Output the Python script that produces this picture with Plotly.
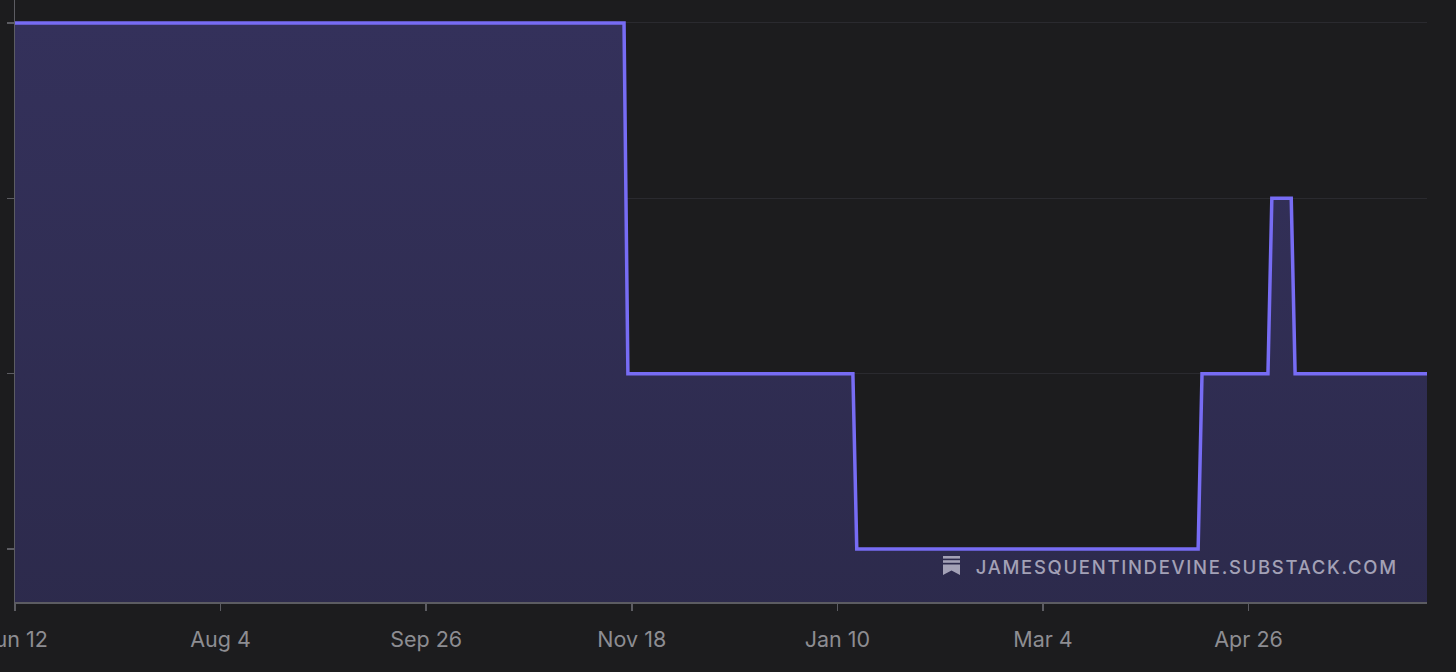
import plotly.graph_objects as go

# ---- data ----
dates = ["2024-06-12", "2024-11-16", "2024-11-17", "2025-01-14", "2025-01-15",
         "2025-04-13", "2025-04-14", "2025-05-01", "2025-05-02", "2025-05-07",
         "2025-05-08", "2025-06-11"]
values = [4, 4, 2, 2, 1, 1, 2, 2, 3, 3, 2, 2]

tick_dates = ["2024-06-12", "2024-08-04", "2024-09-26", "2024-11-18",
              "2025-01-10", "2025-03-04", "2025-04-26"]
tick_labels = ["Jun 12", "Aug 4", "Sep 26", "Nov 18", "Jan 10", "Mar 4", "Apr 26"]
y_levels = [1, 2, 3, 4]
watermark = "JAMESQUENTINDEVINE.SUBSTACK.COM"

# ---- layout geometry ----
W, H = 1456, 672
ML, MR, MT, MB = 15, 29, 0, 70
PW, PH = W - ML - MR, H - MT - MB

BG = "#1c1c1e"
LINE = "#776cf4"
AXIS = "#5c5c62"
GRID = "#2a2a2f"
MARK = "#a3a1b6"

fig = go.Figure()
fig.add_trace(go.Scatter(
    x=dates, y=values, mode="lines",
    line=dict(color=LINE, width=3.5, shape="linear"),
    fill="tozeroy",
    fillgradient=dict(type="vertical",
                      colorscale=[[0, "#2b2949"], [1, "#34315b"]]),
    hoverinfo="skip",
))

def px_x(px):
    return (px - ML) / PW

def px_y(py):
    return (H - MB - py) / PH

shapes = []
# substack-style logo made of bars + ribbon
for y0, y1 in [(556, 558.6), (560.2, 562.8)]:
    shapes.append(dict(type="rect", xref="paper", yref="paper",
                       x0=px_x(943), x1=px_x(960), y0=px_y(y1), y1=px_y(y0),
                       fillcolor=MARK, line=dict(width=0), layer="above"))
path = "M {} {} L {} {} L {} {} L {} {} L {} {} Z".format(
    px_x(943), px_y(564.4), px_x(960), px_y(564.4), px_x(960), px_y(575),
    px_x(951.5), px_y(570.5), px_x(943), px_y(575))
shapes.append(dict(type="path", xref="paper", yref="paper", path=path,
                   fillcolor=MARK, line=dict(width=0), layer="above"))

px_per_unit = 175.5
y_top = 4 + (23 - MT) / px_per_unit
y_bot = 1 - (602 - 549) / px_per_unit

fig.update_layout(
    width=W, height=H,
    margin=dict(l=ML, r=MR, t=MT, b=MB, autoexpand=False),
    paper_bgcolor=BG, plot_bgcolor=BG,
    showlegend=False,
    shapes=shapes,
    annotations=[dict(
        text=watermark, xref="paper", yref="paper",
        x=px_x(1186), y=px_y(567), xanchor="center", yanchor="middle",
        showarrow=False,
        font=dict(family="Inter", size=18.5, color=MARK, weight=500),
    )],
    xaxis=dict(
        type="date",
        range=["2024-06-12", "2025-06-11"],
        tickvals=tick_dates, ticktext=tick_labels,
        showgrid=False, zeroline=False,
        showline=True, linecolor=AXIS, linewidth=1.5,
        ticks="outside", ticklen=7, tickcolor=AXIS, tickwidth=1.5,
        tickfont=dict(family="Inter", size=21.5, color="#8d8d92"),
        ticklabelstandoff=11,
        ticklabeloverflow="allow",
        automargin=False,
    ),
    yaxis=dict(
        range=[y_bot, y_top],
        tickvals=y_levels, showticklabels=False,
        showgrid=True, gridcolor=GRID, gridwidth=1,
        zeroline=False,
        showline=True, linecolor=AXIS, linewidth=1.5,
        ticks="outside", ticklen=7, tickcolor=AXIS, tickwidth=1.5,
        automargin=False,
    ),
)

post = """
document.body.style.margin = '0';
document.body.style.background = '%s';
document.querySelectorAll('.annotation-text').forEach(function(e){
  e.style.letterSpacing = '1.7px';
});
""" % BG

fig.write_html("out.html", post_script=post,
               config={"displayModeBar": False, "staticPlot": True})
